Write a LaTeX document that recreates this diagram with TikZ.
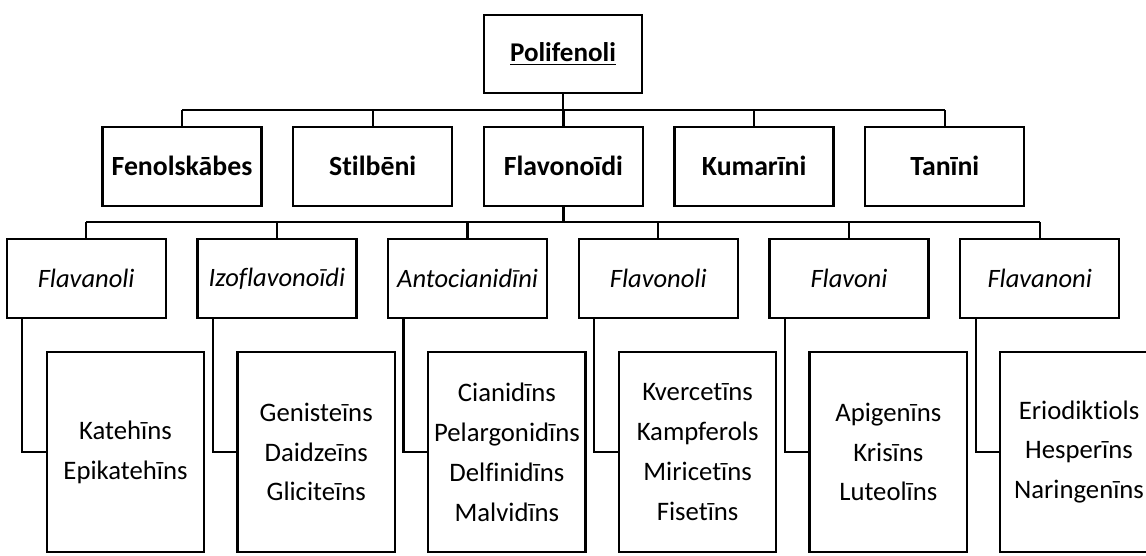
\documentclass[tikz,border=0pt]{standalone}
\usepackage{fontspec}
\setmainfont{Carlito}[Ligatures=NoCommon]
\usetikzlibrary{positioning}

\begin{document}
\begin{tikzpicture}[x=0.02cm,y=-0.02cm,
  box/.style={draw,line width=1.3pt,inner sep=0pt,align=center},
  rootbox/.style={box,minimum width=3.16cm,minimum height=1.56cm,font=\fontsize{15.4}{22.7}\selectfont\bfseries},
  groupbox/.style={box,minimum width=3.18cm,minimum height=1.58cm,font=\fontsize{15.8}{22.7}\selectfont\bfseries},
  classbox/.style={box,minimum width=3.18cm,minimum height=1.58cm,font=\fontsize{15.1}{22.7}\selectfont\itshape},
  listbox/.style={box,minimum width=3.15cm,minimum height=4.0cm,font=\fontsize{15.2}{22.7}\selectfont},
  link/.style={line width=1.3pt}]
  \clip (0,0) rectangle (1146,555);
  \node[rootbox] (pol) at (563,54) {\underline{Polifenoli}};
  \node[groupbox] (fen) at (182,166.2) {Fenolskābes};
  \node[groupbox] (sti) at (372.7,166.2) {Stilbēni};
  \node[groupbox] (flv) at (563.4,166.2) {Flavonoīdi};
  \node[groupbox] (kum) at (754.1,166.2) {Kumarīni};
  \node[groupbox] (tan) at (944.8,166.2) {Tanīni};
  \node[classbox] (flan) at (86.2,278.4) {Flavanoli};
  \node[classbox] (izo) at (276.9,278.4) {Izoflavonoīdi};
  \node[classbox] (ant) at (467.6,278.4) {Antocianidīni};
  \node[classbox] (flol) at (658.3,278.4) {Flavonoli};
  \node[classbox] (flon) at (849,278.4) {Flavoni};
  \node[classbox] (flnn) at (1039.7,278.4) {Flavanoni};
  \node[listbox] (flan-l) at (125.5,452) {Katehīns\\Epikatehīns};
  \node[listbox] (izo-l) at (316.2,452) {Genisteīns\\Daidzeīns\\Gliciteīns};
  \node[listbox] (ant-l) at (506.9,452) {Cianidīns\\Pelargonidīns\\Delfinidīns\\Malvidīns};
  \node[listbox] (flol-l) at (697.6,452) {Kvercetīns\\Kampferols\\Miricetīns\\Fisetīns};
  \node[listbox] (flon-l) at (888.3,452) {Apigenīns\\Krisīns\\Luteolīns};
  \node[listbox] (flnn-l) at (1079,452) {Eriodiktiols\\Hesperīns\\Naringenīns};
  \coordinate (bus1) at (0,110);
  \coordinate (bus2) at (0,221.7);
  % root to groups
  \draw[link] (pol.south) -- (pol.south |- bus1);
  \draw[link] (fen.north |- bus1) -- (tan.north |- bus1);
  \draw[link] (fen.north) -- (fen.north |- bus1); \draw[link] (sti.north) -- (sti.north |- bus1);
  \draw[link] (flv.north) -- (flv.north |- bus1); \draw[link] (kum.north) -- (kum.north |- bus1);
  \draw[link] (tan.north) -- (tan.north |- bus1);
  % flavonoids to classes
  \draw[link] (flv.south) -- (flv.south |- bus2);
  \draw[link] (flan.north |- bus2) -- (flnn.north |- bus2);
  \draw[link] (flan.north) -- (flan.north |- bus2); \draw[link] (izo.north) -- (izo.north |- bus2);
  \draw[link] (ant.north) -- (ant.north |- bus2); \draw[link] (flol.north) -- (flol.north |- bus2);
  \draw[link] (flon.north) -- (flon.north |- bus2); \draw[link] (flnn.north) -- (flnn.north |- bus2);
  % classes to compounds
  \draw[link] ([xshift=0.332cm]flan.south west) |- (flan-l.west);
  \draw[link] ([xshift=0.332cm]izo.south west) |- (izo-l.west);
  \draw[link] ([xshift=0.332cm]ant.south west) |- (ant-l.west);
  \draw[link] ([xshift=0.332cm]flol.south west) |- (flol-l.west);
  \draw[link] ([xshift=0.332cm]flon.south west) |- (flon-l.west);
  \draw[link] ([xshift=0.332cm]flnn.south west) |- (flnn-l.west);
\end{tikzpicture}
\end{document}
